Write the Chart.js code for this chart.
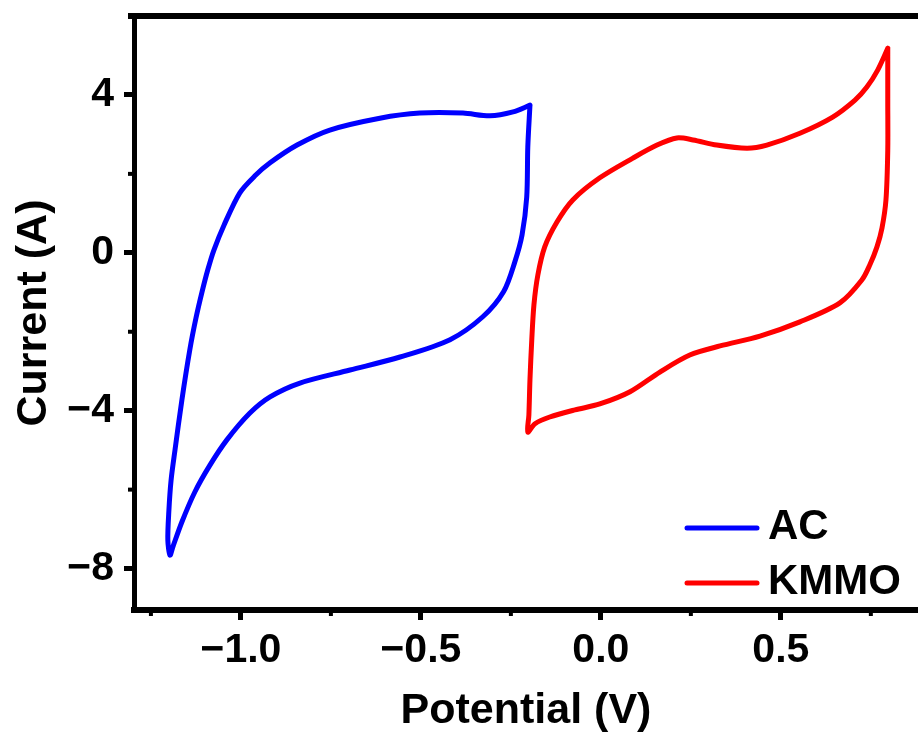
<!DOCTYPE html>
<html>
<head>
<meta charset="utf-8">
<script src="https://cdn.jsdelivr.net/npm/chart.js@4/dist/chart.umd.min.js"></script>
<style>
html, body { margin: 0; padding: 0; background: #fff; overflow: hidden; }
</style>
</head>
<body>
<canvas id="cv" width="918" height="747"></canvas>
<script>
// cyclic voltammograms, potential (V) vs current (A)
var acV = [-0.197, -0.203, -0.206, -0.219, -0.239, -0.270, -0.328, -0.419, -0.558, -0.697, -0.836, -0.919, -0.975, -1.039, -1.086, -1.128, -1.164, -1.189, -1.197,
           -1.203, -1.200, -1.194, -1.183, -1.164, -1.142, -1.125, -1.108, -1.092, -1.075, -1.047, -1.003, -0.961, -0.919, -0.844, -0.753, -0.614, -0.503, -0.383, -0.308, -0.244, -0.197];
var acI = [3.74, 2.68, 1.41, 0.45, -0.23, -0.98, -1.62, -2.20, -2.64, -2.97, -3.30, -3.65, -4.06, -4.74, -5.38, -6.06, -6.82, -7.45, -7.66,
           -7.28, -6.52, -5.76, -4.99, -3.73, -2.46, -1.66, -0.99, -0.43, 0.07, 0.70, 1.52, 1.95, 2.28, 2.73, 3.11, 3.41, 3.54, 3.54, 3.47, 3.57, 3.74];

var kmmoV = [0.797, 0.797, 0.797, 0.797, 0.792, 0.781, 0.767, 0.747, 0.725, 0.664, 0.553, 0.442, 0.331, 0.247, 0.164, 0.081, -0.003, -0.072, -0.142, -0.183, -0.203,
             -0.200, -0.197, -0.192, -0.186, -0.175, -0.156, -0.122, -0.078, -0.003, 0.089, 0.156, 0.211, 0.256, 0.322, 0.406, 0.461, 0.553, 0.644, 0.706, 0.739, 0.769, 0.797];
var kmmoI = [5.18, 4.81, 3.87, 2.60, 1.34, 0.63, 0.15, -0.31, -0.69, -1.27, -1.75, -2.11, -2.36, -2.59, -3.02, -3.52, -3.83, -3.98, -4.16, -4.33, -4.54,
             -4.11, -3.22, -2.21, -1.32, -0.56, 0.15, 0.78, 1.34, 1.90, 2.40, 2.73, 2.91, 2.86, 2.73, 2.65, 2.73, 3.03, 3.44, 3.87, 4.20, 4.63, 5.18];

var xMajor = [-1.0, -0.5, 0.0, 0.5];
var xMinor = [-1.25, -0.75, -0.25, 0.25, 0.75];
var yMajor = [4, 0, -4, -8];
var yMinor = [2, -2, -6];

function pts(xs, ys) {
  return xs.map(function (x, i) { return { x: x, y: ys[i] }; });
}

function fmt(v, digits) {
  var s = Math.abs(v).toFixed(digits);
  return v < 0 ? '\u2212' + s : s;
}

var FONT = '"Liberation Sans", Arial, sans-serif';

// minor ticks, top frame line and the inset legend
var extras = {
  id: 'extras',
  afterDraw: function (chart) {
    var ctx = chart.ctx;
    var a = chart.chartArea;
    var xs = chart.scales.x, ys = chart.scales.y;
    ctx.save();
    ctx.strokeStyle = '#000';
    ctx.lineWidth = 4;
    xMinor.forEach(function (v) {
      var px = xs.getPixelForValue(v);
      ctx.beginPath(); ctx.moveTo(px, a.bottom); ctx.lineTo(px, a.bottom + 6); ctx.stroke();
    });
    yMinor.forEach(function (v) {
      var py = ys.getPixelForValue(v);
      ctx.beginPath(); ctx.moveTo(a.left, py); ctx.lineTo(a.left - 6, py); ctx.stroke();
    });
    ctx.lineWidth = 6;
    ctx.beginPath(); ctx.moveTo(a.left - 6, a.top); ctx.lineTo(chart.width, a.top); ctx.stroke();

    ctx.font = 'bold 42px ' + FONT;
    ctx.textBaseline = 'middle';
    ctx.textAlign = 'left';
    ctx.lineCap = 'round';
    chart.data.datasets.forEach(function (ds, i) {
      var y = 528 + i * 55;
      ctx.strokeStyle = ds.borderColor;
      ctx.lineWidth = 5;
      ctx.beginPath(); ctx.moveTo(687, y); ctx.lineTo(757, y); ctx.stroke();
      ctx.fillStyle = '#000';
      ctx.fillText(ds.label, 768, y - 1);
    });
    ctx.restore();
  }
};

new Chart(document.getElementById('cv'), {
  type: 'scatter',
  data: {
    datasets: [
      { label: 'AC', data: pts(acV, acI), borderColor: '#0000ff' },
      { label: 'KMMO', data: pts(kmmoV, kmmoI), borderColor: '#ff0000' }
    ]
  },
  options: {
    responsive: false,
    animation: false,
    devicePixelRatio: 1,
    layout: { padding: { top: 16, left: 0, right: 0, bottom: 0 } },
    elements: {
      point: { radius: 0, hoverRadius: 0 },
      line: { borderWidth: 5, tension: 0.3, borderCapStyle: 'round', borderJoinStyle: 'round', fill: false }
    },
    datasets: { scatter: { showLine: true } },
    plugins: { legend: { display: false }, tooltip: { enabled: false } },
    scales: {
      x: {
        type: 'linear',
        min: -1.297,
        max: 0.881,
        afterBuildTicks: function (s) { s.ticks = xMajor.map(function (v) { return { value: v }; }); },
        afterFit: function (s) { s.height = 137; s.paddingLeft = 0; s.paddingRight = 0; },
        border: { display: true, color: '#000', width: 6 },
        grid: { drawOnChartArea: false, drawTicks: true, tickLength: 10, tickWidth: 5, tickColor: '#000' },
        ticks: {
          color: '#000', padding: 6,
          font: { family: FONT, size: 41, weight: 'bold' },
          callback: function (v) { return fmt(v, 1); }
        },
        title: {
          display: true, text: 'Potential (V)', color: '#000',
          font: { family: FONT, size: 43, weight: 'bold' },
          padding: { top: 0, bottom: 10 }
        }
      },
      y: {
        type: 'linear',
        min: -9.05,
        max: 6.0,
        afterBuildTicks: function (s) { s.ticks = yMajor.map(function (v) { return { value: v }; }); },
        afterFit: function (s) { s.width = 134; s.paddingTop = 0; s.paddingBottom = 0; },
        border: { display: true, color: '#000', width: 5 },
        grid: { drawOnChartArea: false, drawTicks: true, tickLength: 10, tickWidth: 5, tickColor: '#000' },
        ticks: {
          color: '#000', padding: 10,
          font: { family: FONT, size: 41, weight: 'bold' },
          callback: function (v) { return fmt(v, 0); }
        },
        title: {
          display: true, text: 'Current (A)', color: '#000',
          font: { family: FONT, size: 43, weight: 'bold' },
          padding: { top: 8, bottom: 0 }
        }
      }
    }
  },
  plugins: [extras]
});
</script>
</body>
</html>
